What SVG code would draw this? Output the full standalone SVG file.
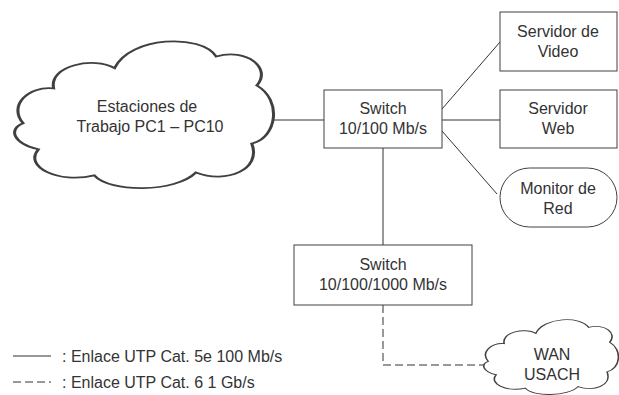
<svg xmlns="http://www.w3.org/2000/svg" width="619" height="395" viewBox="0 0 619 395">
<defs>
<style>
.box{fill:#fff;stroke:#404040;stroke-width:1}
.cloud{fill:#fff;stroke:#404040;stroke-width:1.2;vector-effect:non-scaling-stroke}
.ln{fill:none;stroke:#333;stroke-width:1}
.dash{fill:none;stroke:#333;stroke-width:1;stroke-dasharray:8 4}
text{font-family:"Liberation Sans",Arial,sans-serif;font-size:16px;fill:#333}
.c{text-anchor:middle}
</style>
<path id="cloudShape" d="M4,56 C-2,44 6,30 16,32 C14,16 32,10 40,18 C46,-4 74,-6 80,10 C92,4 102,18 96,30 C106,40 104,66 94,70 C98,88 84,98 72,90 C64,104 38,104 32,92 C18,98 4,86 10,74 C0,70 -2,60 4,56 Z"/>
</defs>
<rect width="619" height="395" fill="#fff"/>
<g id="connectors">
<line class="ln" x1="262" y1="120" x2="324" y2="120"/>
<line class="ln" x1="442" y1="109" x2="500" y2="42"/>
<line class="ln" x1="442" y1="120" x2="500" y2="120"/>
<line class="ln" x1="442" y1="131" x2="497" y2="194"/>
<line class="ln" x1="383" y1="148" x2="383" y2="245"/>
<polyline class="dash" points="383,305 383,365 484,365"/>
</g>
<g id="estaciones">
<use href="#cloudShape" class="cloud" transform="translate(13,42) scale(2.54,1.45)"/>
<text class="c" x="147" y="112">Estaciones de</text>
<text class="c" x="150" y="132">Trabajo PC1 – PC10</text>
</g>
<g id="switch1">
<rect class="box" x="324" y="90" width="118" height="58"/>
<text class="c" x="383" y="114">Switch</text>
<text class="c" x="383" y="134">10/100 Mb/s</text>
</g>
<g id="servidor-video">
<rect class="box" x="500" y="12" width="117" height="59"/>
<text class="c" x="558" y="37">Servidor de</text>
<text class="c" x="558" y="57">Video</text>
</g>
<g id="servidor-web">
<rect class="box" x="500" y="90" width="117" height="58"/>
<text class="c" x="558" y="114">Servidor</text>
<text class="c" x="558" y="134">Web</text>
</g>
<g id="monitor-red">
<rect class="box" x="500" y="168" width="117" height="59" rx="29.5" ry="29.5"/>
<text class="c" x="558" y="194">Monitor de</text>
<text class="c" x="558" y="214">Red</text>
</g>
<g id="switch2">
<rect class="box" x="294" y="245" width="178" height="60"/>
<text class="c" x="383" y="270">Switch</text>
<text class="c" x="383" y="290">10/100/1000 Mb/s</text>
</g>
<g id="wan">
<use href="#cloudShape" class="cloud" transform="translate(483,320) scale(1.32,0.74)"/>
<text class="c" x="552" y="360">WAN</text>
<text class="c" x="552" y="380">USACH</text>
</g>
<g id="legend">
<line class="ln" x1="13" y1="356" x2="51" y2="356"/>
<text x="62" y="362">: Enlace UTP Cat. 5e 100 Mb/s</text>
<line class="ln" x1="13" y1="382" x2="51" y2="382" stroke-dasharray="8 4"/>
<text x="62" y="388">: Enlace UTP Cat. 6 1 Gb/s</text>
</g>
</svg>
